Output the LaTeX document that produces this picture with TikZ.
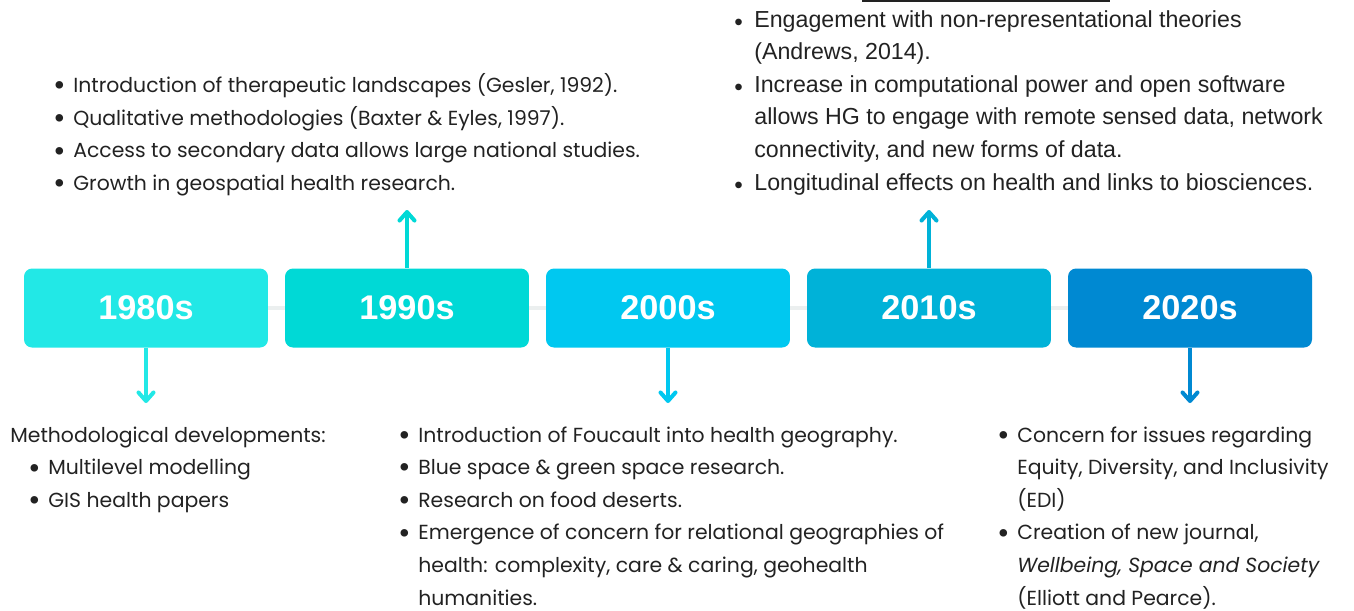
\documentclass[tikz,border=0pt]{standalone}
\usepackage{fontspec}
\setmainfont{Poppins}
\newfontfamily\tenfont{Liberation Sans}
\usetikzlibrary{arrows.meta,positioning}

\definecolor{c80}{RGB}{34,232,230}
\definecolor{c90}{RGB}{0,217,214}
\definecolor{c00}{RGB}{0,200,240}
\definecolor{c10}{RGB}{0,178,216}
\definecolor{c20}{RGB}{0,137,210}
\definecolor{spine}{RGB}{235,239,239}
\definecolor{ink}{RGB}{34,34,34}

\newcommand{\bulsize}{1.5}
\newcommand{\bl}{\makebox[0.4cm][l]{\raisebox{-0.16em}{\scalebox{\bulsize}{•}}}}
\newcommand{\ind}{\hspace*{0.4cm}}

\tikzset{
  decade/.style={rounded corners=0.16cm,minimum width=4.88cm,minimum height=1.58cm,
    inner sep=0pt,text=white,font=\tenfont\bfseries\fontsize{19.5pt}{21pt}\selectfont},
  notes/.style={anchor=base west,inner sep=0pt,align=left,text=ink,
    font=\fontsize{11.6pt}{18.55pt}\selectfont},
  pointer/.style={line width=2.3pt,-{Straight Barb[length=0.17cm,width=0.3cm,round]}}
}

\begin{document}
\begin{tikzpicture}[x=0.02cm,y=-0.02cm]

%%% page frame
\useasboundingbox (0,0) rectangle (1354,610);

%% spine behind the boxes
\draw[spine,line width=2.8pt] (146,308) -- (1190,308);

% DECADES
\node[decade,fill=c80] (y80) at (146,308) {1980s};
\node[decade,fill=c90] (y90) at (407,308) {1990s};
\node[decade,fill=c00] (y00) at (668,308) {2000s};
\node[decade,fill=c10] (y10) at (929,308) {2010s};
\node[decade,fill=c20] (y20) at (1190,308) {2020s};

% arrow ends
\coordinate (e80) at (146,403);
\coordinate (e90) at (407,210);
\coordinate (e00) at (668,403);
\coordinate (e10) at (929,210);
\coordinate (e20) at (1190,403);

\draw[pointer,c80] (y80.south) -- (e80);
\draw[pointer,c90] (y90.north) -- (e90);
\draw[pointer,c00] (y00.south) -- (e00);
\draw[pointer,c10] (y10.north) -- (e10);
\draw[pointer,c20] (y20.south) -- (e20);

% notes are placed by the baseline of their last line
% 1980s
\node[notes] (n80) at (10,507.5) {
  Methodological developments:\\
  \hspace*{0.36cm}\bl Multilevel modelling\\
  \hspace*{0.36cm}\bl GIS health papers
};

% 1990s
\node[notes] (n90) at (53,190.5) {
  \bl Introduction of therapeutic landscapes (Gesler, 1992).\\
  \bl Qualitative methodologies (Baxter \& Eyles, 1997).\\
  \bl Access to secondary data allows large national studies.\\
  \bl Growth in geospatial health research.
};

% 2000s
\node[notes] (n00) at (398,605) {
  \bl Introduction of Foucault into health geography.\\
  \bl Blue space \& green space research.\\
  \bl Research on food deserts.\\
  \bl Emergence of concern for relational geographies of\\
  \ind health: complexity, care \& caring, geohealth\\
  \ind humanities.
};

% 2010s (cut off heading above)
\draw[ink,line width=1.2pt] (862,1) -- (1110,1);
\node[notes,font=\tenfont\fontsize{13.2pt}{18.55pt}\selectfont\renewcommand{\bulsize}{1.05}] (n10) at (734,190) {
  \bl Engagement with non-representational theories\\
  \ind (Andrews, 2014).\\
  \bl Increase in computational power and open software\\
  \ind allows HG to engage with remote sensed data, network\\
  \ind connectivity, and new forms of data.\\
  \bl Longitudinal effects on health and links to biosciences.
};

% 2020s
\node[notes] (n20) at (997,605) {
  \bl Concern for issues regarding\\
  \ind Equity, Diversity, and Inclusivity\\
  \ind (EDI)\\
  \bl Creation of new journal,\\
  \ind \textit{Wellbeing, Space and Society}\\
  \ind (Elliott and Pearce).
};
\end{tikzpicture}
\end{document}
